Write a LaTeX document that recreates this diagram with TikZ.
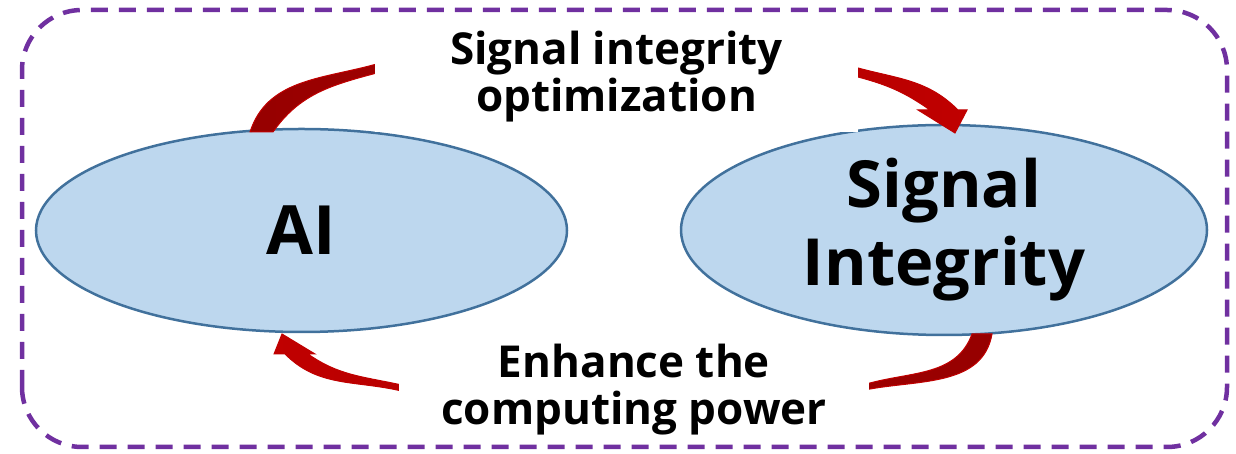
\documentclass[tikz,border=0pt]{standalone}
\usepackage{fontspec}
\setmainfont{Open Sans}
\usetikzlibrary{shapes.geometric}

\definecolor{ellfill}{HTML}{BDD7EE}
\definecolor{ellline}{HTML}{41719C}
\definecolor{arrowred}{HTML}{C00000}
\definecolor{arrowdark}{HTML}{960000}
\definecolor{framepurple}{HTML}{7030A0}

\begin{document}
\begin{tikzpicture}[x=1pt, y=1pt,
        bubble/.style={ellipse, draw=ellline, fill=ellfill, line width=2.5pt, inner sep=0pt, align=center},
        textbox/.style={fill=white, inner sep=0pt, align=center, font=\bfseries\fontsize{44}{47}\selectfont},
        bigarrow/.style={draw=arrowred, line width=1pt},
        frame/.style={draw=framepurple, line width=4.5pt, dash pattern=on 17pt off 11pt, rounded corners=60pt}
    ]
        \useasboundingbox (0,0) rectangle (1236,454);

        % Ellipses
        \node[bubble, minimum width=531pt, minimum height=203pt, font=\bfseries\fontsize{68}{70}\selectfont] (ai) at (301.5,223.5) {AI};
        \node[bubble, minimum width=526pt, minimum height=210pt, font=\bfseries\fontsize{65}{78}\selectfont] (si) at (944,224) {Signal\\Integrity};

        % Upper arrow (AI -> SI)
        \shadedraw[bigarrow, left color=arrowdark, right color=arrowred]
            (250,322) to[out=72,in=195] (373,389) to[out=15,in=180] (617,410)
            to[out=0,in=165] (858,386) to[out=-15,in=135] (958,344)
            -- (967,344) -- (955,321) -- (918,344) -- (930,344)
            to[out=145,in=-15] (858,377) to[out=165,in=0] (617,400)
            to[out=180,in=15] (373,380) to[out=195,in=55] (273,322) -- cycle;

        % Lower arrow (SI -> AI)
        \shadedraw[bigarrow, left color=arrowred, right color=arrowdark]
            (992,120) to[out=-100,in=10] (870,65) to[out=190,in=0] (635,56)
            to[out=180,in=-12] (397,64) to[out=168,in=-45] (285,100)
            -- (274,100) -- (282,120) -- (315,100) -- (308,100)
            to[out=-35,in=168] (397,70) to[out=-12,in=180] (635,63)
            to[out=0,in=195] (870,71) to[out=15,in=-110] (972,120) -- cycle;

        % Labels
        \node[textbox, minimum width=483pt, minimum height=110pt] (opt) at (616.5,377) {Signal integrity\\optimization};
        \node[textbox, minimum width=470pt, minimum height=107pt] (power) at (634,64.5) {Enhance the\\computing power};

        % Dashed frame
        \draw[frame] (22,7) rectangle (1227,444);
    \end{tikzpicture}
\end{document}
